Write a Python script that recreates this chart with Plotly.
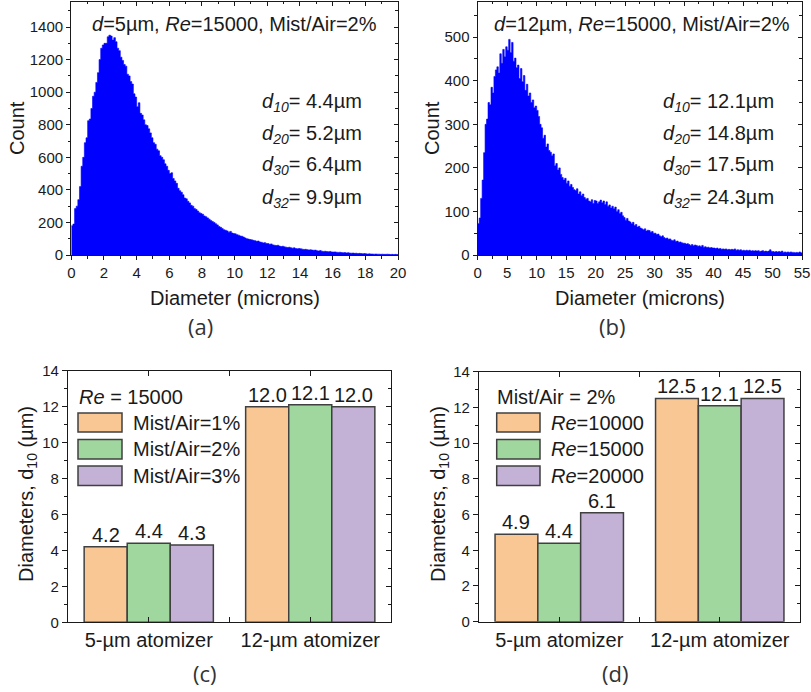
import plotly.graph_objects as go

W, H = 811, 692

# ---------------- droplet-size histograms ----------------
BIN_A = 0.1   # µm, 5-µm atomizer
counts_a = [
    180, 190, 285, 300, 340, 420, 545, 600, 690, 720, 825, 835, 900, 975, 1000, 1060, 1120, 1200, 1270, 1290,
    1300, 1300, 1340, 1350, 1345, 1320, 1335, 1310, 1270, 1255, 1215, 1195, 1170, 1160, 1110, 1100, 1065, 1050, 990, 970,
    910, 935, 870, 860, 830, 800, 795, 775, 750, 720, 690, 680, 650, 640, 610, 600, 585, 560, 545, 520,
    500, 505, 470, 455, 440, 410, 395, 385, 370, 350, 345, 330, 320, 305, 300, 285, 280, 270, 260, 255,
    250, 240, 235, 228, 220, 212, 205, 200, 192, 185, 175, 170, 162, 155, 152, 148, 140, 145, 135, 132,
    130, 125, 122, 117, 115, 110, 105, 100, 98, 95, 93, 90, 88, 84, 86, 80, 78, 74, 76, 71,
    70, 66, 68, 62, 60, 58, 60, 55, 52, 54, 50, 48, 46, 48, 44, 42, 44, 40, 38, 40,
    38, 36, 34, 35, 33, 31, 32, 30, 29, 30, 26, 25, 27, 23, 22, 23, 21, 20, 22, 19,
    18, 19, 17, 16, 17, 15, 14, 15, 13, 14, 12, 11, 12, 10, 11, 9, 10, 9, 8, 9,
    7, 6, 7, 6, 6, 5, 6, 5, 5, 4, 5, 4, 4, 5, 4, 3, 4, 3, 4, 3,
]

BIN_B = 0.25  # µm, 12-µm atomizer
counts_b = [
    72, 85, 130, 172, 235, 300, 312, 350, 345, 385, 372, 410, 425, 432, 418, 462, 440, 472, 455, 478,
    470, 495, 465, 488, 445, 452, 430, 436, 405, 428, 398, 412, 378, 392, 365, 372, 350, 356, 338, 342,
    332, 318, 300, 292, 268, 275, 248, 255, 240, 236, 228, 232, 205, 210, 195, 200, 185, 178, 172, 176,
    165, 170, 158, 162, 155, 150, 148, 152, 140, 145, 136, 140, 132, 128, 130, 124, 122, 127, 118, 125,
    124, 118, 122, 126, 120, 124, 116, 122, 112, 115, 108, 112, 106, 110, 100, 104, 95, 98, 90, 86,
    80, 84, 78, 76, 72, 75, 68, 70, 64, 66, 62, 60, 58, 60, 55, 57, 56, 52, 54, 50,
    50, 47, 48, 44, 42, 44, 40, 38, 39, 36, 37, 34, 33, 35, 31, 32, 29, 30, 28, 27,
    27, 25, 26, 24, 22, 24, 21, 23, 22, 20, 21, 19, 22, 18, 19, 17, 18, 16, 17, 16,
    16, 15, 16, 14, 15, 13, 14, 13, 14, 12, 13, 12, 13, 12, 14, 11, 12, 11, 12, 10,
    11, 10, 11, 10, 11, 9, 10, 9, 10, 9, 10, 8, 9, 10, 8, 9, 8, 9, 12, 8,
    8, 7, 8, 7, 8, 7, 9, 6, 7, 6, 7, 6, 7, 6, 6, 5, 6, 5, 7, 5,
]

stats_a = [("10", 4.4), ("20", 5.2), ("30", 6.4), ("32", 9.9)]
stats_b = [("10", 12.1), ("20", 14.8), ("30", 17.5), ("32", 24.3)]

# ---------------- mean diameter bar charts ----------------
categories = ["5-µm atomizer", "12-µm atomizer"]
mist_labels = ["Mist/Air=1%", "Mist/Air=2%", "Mist/Air=3%"]
mist_d10 = [[4.2, 12.0], [4.4, 12.1], [4.3, 12.0]]
re_labels = ["<i>Re</i>=10000", "<i>Re</i>=15000", "<i>Re</i>=20000"]
re_d10 = [[4.9, 12.5], [4.4, 12.1], [6.1, 12.5]]
bar_colors = ["#F9C794", "#A0D79E", "#C3B1D6"]

edges_a = [round(i * BIN_A, 3) for i in range(len(counts_a) + 1)]
edges_b = [round(i * BIN_B, 3) for i in range(len(counts_b) + 1)]
cat_idx = list(range(len(categories)))

BARGAP = 0.2


def fx(p):
    return p / W


def fy(p):
    return 1 - p / H


FONT = "Liberation Sans, Arial, sans-serif"
INK = "#1a1a1a"
EDGE = "#404040"

fig = go.Figure()


def hist_trace(edges, counts, xa, ya):
    return go.Scatter(
        x=edges, y=counts + [counts[-1]], mode="lines",
        line=dict(shape="hv", width=0.6, color="#0000FF"),
        fill="tozeroy", fillcolor="#0000FF",
        xaxis=xa, yaxis=ya, showlegend=False, hoverinfo="skip",
    )


def blank(xa, ya):
    return go.Scatter(x=[None], y=[None], mode="markers", xaxis=xa, yaxis=ya,
                      showlegend=False, hoverinfo="skip")


fig.add_trace(hist_trace(edges_a, counts_a, "x", "y"))
fig.add_trace(hist_trace(edges_b, counts_b, "x2", "y2"))

ann = []


def bar_group(labels, values, xa, ya):
    n = len(labels)
    w = (1 - BARGAP) / n
    for k, (lab, vals) in enumerate(zip(labels, values)):
        fig.add_trace(go.Bar(
            x=cat_idx, y=vals, name=lab,
            marker=dict(color=bar_colors[k], line=dict(color=EDGE, width=1.5)),
            xaxis=xa, yaxis=ya, showlegend=False, hoverinfo="skip",
        ))
        # value label sitting on top of each bar
        off = (k - (n - 1) / 2) * w
        for i, v in zip(cat_idx, vals):
            ann.append(dict(x=i + off, y=v, xref=xa, yref=ya, text=f"{v:.1f}",
                            showarrow=False, xanchor="center", yanchor="bottom",
                            yshift=-1, font=dict(family=FONT, size=20, color=INK)))


bar_group(mist_labels, mist_d10, "x3", "y3")
bar_group(re_labels, re_d10, "x4", "y4")

# companions for the inward-facing mirror ticks
fig.add_trace(blank("x5", "y"))
fig.add_trace(blank("x", "y5"))
fig.add_trace(blank("x6", "y2"))
fig.add_trace(blank("x2", "y6"))
fig.add_trace(blank("x3", "y7"))
fig.add_trace(blank("x4", "y8"))

BASE = dict(showgrid=False, zeroline=False, showline=True, linecolor=INK, linewidth=1.3,
            automargin=False, tickcolor=INK, tickwidth=1.2,
            tickfont=dict(family=FONT, size=15, color=INK))


def ax(**kw):
    d = dict(BASE)
    d.update(kw)
    return d


def minor(dt, direction):
    return dict(dtick=dt, ticks=direction, ticklen=2.5, tickcolor=INK, tickwidth=1)


dom_xa = [fx(71.3), fx(398)]
dom_ya = [fy(255), fy(1.5)]
dom_xb = [fx(477.7), fx(802)]
dom_yb = [fy(255), fy(1.5)]
dom_xc = [fx(68), fx(391)]
dom_yc = [fy(622.3), fy(370.7)]
dom_xd = [fx(479), fx(800)]
dom_yd = [fy(621.7), fy(371.7)]

ra_x, ra_y = [0, 20], [0, 1557]
rb_x, rb_y = [0, 55], [0, 582]
rc_x, rc_y = [-0.5, 1.5], [0, 14]

fig.update_layout(
    width=W, height=H, autosize=False,
    margin=dict(l=0, r=0, t=0, b=0, autoexpand=False),
    paper_bgcolor="white", plot_bgcolor="white",
    barmode="group", bargap=BARGAP, bargroupgap=0,
    font=dict(family=FONT, color=INK),
    xaxis=ax(domain=dom_xa, anchor="y", range=ra_x, tick0=0, dtick=2, ticks="outside", ticklen=4,
             minor=minor(1, "outside"), mirror=True),
    yaxis=ax(domain=dom_ya, anchor="x", range=ra_y, tick0=0, dtick=200, ticks="outside", ticklen=4,
             minor=minor(100, "outside"), mirror=True),
    xaxis5=ax(overlaying="x", side="top", anchor="y", range=ra_x, tick0=0, dtick=2, ticks="inside",
              ticklen=4, minor=minor(1, "inside"), showticklabels=False),
    yaxis5=ax(overlaying="y", side="right", anchor="x", range=ra_y, tick0=0, dtick=200, ticks="inside",
              ticklen=4, minor=minor(100, "inside"), showticklabels=False),
    xaxis2=ax(domain=dom_xb, anchor="y2", range=rb_x, tick0=0, dtick=5, ticks="outside", ticklen=4,
              minor=minor(2.5, "outside"), mirror=True),
    yaxis2=ax(domain=dom_yb, anchor="x2", range=rb_y, tick0=0, dtick=100, ticks="outside", ticklen=4,
              minor=minor(50, "outside"), mirror=True),
    xaxis6=ax(overlaying="x2", side="top", anchor="y2", range=rb_x, tick0=0, dtick=5, ticks="inside",
              ticklen=4, minor=minor(2.5, "inside"), showticklabels=False),
    yaxis6=ax(overlaying="y2", side="right", anchor="x2", range=rb_y, tick0=0, dtick=100, ticks="inside",
              ticklen=4, minor=minor(50, "inside"), showticklabels=False),
    xaxis3=ax(domain=dom_xc, anchor="y3", range=rc_x, tickmode="array", tickvals=[0, 0.5, 1],
              ticktext=[categories[0], "", categories[1]], ticks="inside", ticklen=5, mirror="ticks",
              tickfont=dict(family=FONT, size=20, color=INK)),
    yaxis3=ax(domain=dom_yc, anchor="x3", range=rc_y, tick0=0, dtick=2, ticks="outside", ticklen=5,
              minor=minor(1, "outside"), mirror=True),
    yaxis7=ax(overlaying="y3", side="right", anchor="x3", range=rc_y, tick0=0, dtick=2, ticks="inside",
              ticklen=5, minor=minor(1, "inside"), showticklabels=False),
    xaxis4=ax(domain=dom_xd, anchor="y4", range=rc_x, tickmode="array", tickvals=[0, 0.5, 1],
              ticktext=[categories[0], "", categories[1]], ticks="inside", ticklen=5, mirror="ticks",
              tickfont=dict(family=FONT, size=20, color=INK)),
    yaxis4=ax(domain=dom_yd, anchor="x4", range=rc_y, tick0=0, dtick=2, ticks="outside", ticklen=5,
              minor=minor(1, "outside"), mirror=True),
    yaxis8=ax(overlaying="y4", side="right", anchor="x4", range=rc_y, tick0=0, dtick=2, ticks="inside",
              ticklen=5, minor=minor(1, "inside"), showticklabels=False),
)


def text(x, y, s, size=20, anchor="center", angle=0, family=FONT, color=INK):
    ann.append(dict(x=fx(x), y=fy(y), xref="paper", yref="paper", text=s, showarrow=False,
                    xanchor=anchor, yanchor="middle", textangle=angle,
                    font=dict(family=family, size=size, color=color)))


# histogram panels
text(234.5, 24, "<i>d</i>=5µm, <i>Re</i>=15000, Mist/Air=2%")
text(642, 24, "<i>d</i>=12µm, <i>Re</i>=15000, Mist/Air=2%")
for k, (sub, val) in enumerate(stats_a):
    text(260, 102 + 32 * k, f"<i>d<sub>{sub}</sub></i>= {val}µm", anchor="left")
for k, (sub, val) in enumerate(stats_b):
    text(661, 102 + 32 * k, f"<i>d<sub>{sub}</sub></i>= {val}µm", anchor="left")
text(17, 128, "Count", angle=-90)
text(432, 128, "Count", angle=-90)
text(234.7, 298, "Diameter (microns)")
text(640, 298, "Diameter (microns)")

# bar panels
text(28, 494, "Diameters, d<sub>10</sub> (µm)", angle=-90)
text(440, 494, "Diameters, d<sub>10</sub> (µm)", angle=-90)
text(76.7, 397, "<i>Re</i> = 15000", anchor="left")
text(495, 397, "Mist/Air = 2%", anchor="left")

rows = [(413, 432), (439.5, 459), (466, 485.5)]
shapes = []
for i, (t, b) in enumerate(rows):
    for (x0, x1, tx, labels) in [(78, 122, 131, mist_labels), (496.7, 540, 549, re_labels)]:
        shapes.append(dict(type="rect", xref="paper", yref="paper",
                           x0=fx(x0), x1=fx(x1), y0=fy(b), y1=fy(t),
                           fillcolor=bar_colors[i], line=dict(color=EDGE, width=1.5)))
        text(tx, (t + b) / 2, labels[i], anchor="left")

# panel letters
LETTER = "Open Sans, Noto Sans, sans-serif"
text(200, 326, "(a)", size=22, family=LETTER, color="#333333")
text(612, 326, "(b)", size=22, family=LETTER, color="#333333")
text(205, 673, "(c)", size=22, family=LETTER, color="#333333")
text(615, 673, "(d)", size=22, family=LETTER, color="#333333")

fig.update_layout(annotations=ann, shapes=shapes)
fig.write_html("out.html")
